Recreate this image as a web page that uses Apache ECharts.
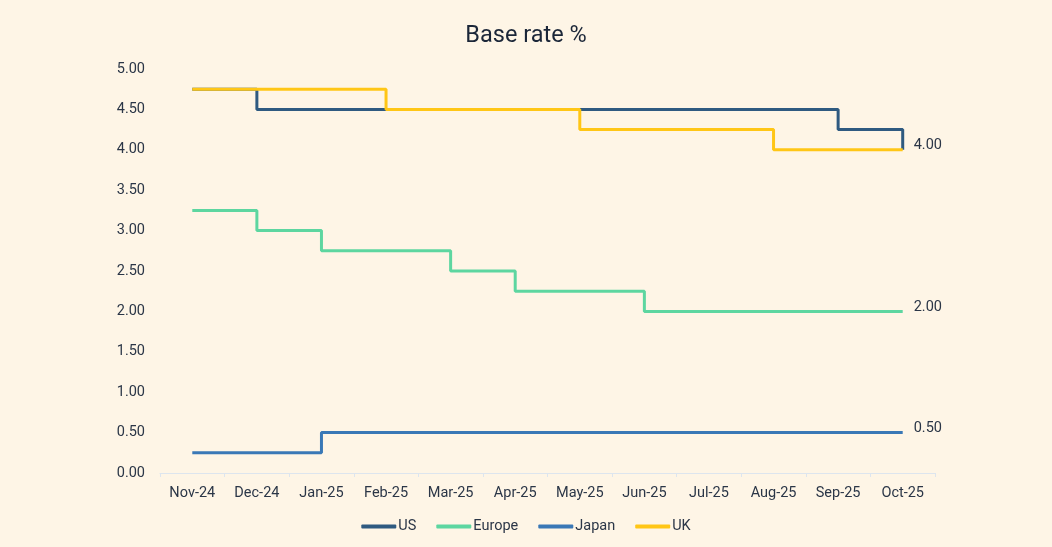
<!DOCTYPE html>
<html>
<head>
<meta charset="utf-8">
<style>
html,body{margin:0;padding:0;background:#fef5e6;}
#chart{width:1052px;height:547px;}
</style>
<script src="https://cdn.jsdelivr.net/npm/echarts@6/dist/echarts.min.js"></script>
</head>
<body>
<div id="chart"></div>
<script>
const categories = ['Nov-24','Dec-24','Jan-25','Feb-25','Mar-25','Apr-25','May-25','Jun-25','Jul-25','Aug-25','Sep-25','Oct-25'];
const usRates     = [4.75, 4.50, 4.50, 4.50, 4.50, 4.50, 4.50, 4.50, 4.50, 4.50, 4.25, 4.00];
const europeRates = [3.25, 3.00, 2.75, 2.75, 2.50, 2.25, 2.25, 2.00, 2.00, 2.00, 2.00, 2.00];
const japanRates  = [0.25, 0.25, 0.50, 0.50, 0.50, 0.50, 0.50, 0.50, 0.50, 0.50, 0.50, 0.50];
const ukRates     = [4.75, 4.75, 4.75, 4.50, 4.50, 4.50, 4.25, 4.25, 4.25, 4.00, 4.00, 4.00];

const chart = echarts.init(document.getElementById('chart'));
const textColor = '#2b3647';
function mk(name, data, color, showEnd) {
  return {
    name: name, type: 'line', step: 'end', data: data,
    showSymbol: false, symbol: 'none',
    lineStyle: { color: color, width: 3 },
    itemStyle: { color: color },
    endLabel: {
      show: showEnd, color: textColor, fontSize: 14.5, fontFamily: 'Roboto',
      offset: [3, -4],
      formatter: p => Number(p.value).toFixed(2)
    }
  };
}
chart.setOption({
  backgroundColor: '#fef5e6',
  animation: false,
  title: {
    text: 'Base rate %', left: 'center', top: 19,
    textStyle: { fontFamily: 'Roboto', fontSize: 23.5, fontWeight: 'normal', color: '#1b2638' }
  },
  legend: {
    bottom: 8, left: 'center',
    icon: 'roundRect', itemWidth: 35, itemHeight: 4, itemGap: 20,
    textStyle: { fontFamily: 'Roboto', fontSize: 14.5, color: textColor, padding: [0,0,0,-3] },
    data: ['US','Europe','Japan','UK']
  },
  grid: { left: 160, right: 117, top: 69, bottom: 74 },
  xAxis: {
    type: 'category', data: categories, boundaryGap: true,
    axisLine: { lineStyle: { color: '#dde5ee', width: 1 } },
    axisTick: { show: true, length: 4, lineStyle: { color: '#dde5ee' } },
    axisLabel: { fontFamily: 'Roboto', fontSize: 14.5, color: textColor, margin: 13 }
  },
  yAxis: {
    type: 'value', min: 0, max: 5, interval: 0.5,
    axisLine: { show: false }, axisTick: { show: false }, splitLine: { show: false },
    axisLabel: { fontFamily: 'Roboto', fontSize: 14.5, color: textColor, margin: 15,
      formatter: v => v.toFixed(2) }
  },
  series: [
    mk('US', usRates, '#2f5a80', false),
    mk('Europe', europeRates, '#5dd6a0', true),
    mk('Japan', japanRates, '#3a78b6', true),
    mk('UK', ukRates, '#ffc616', true)
  ]
});
</script>
</body>
</html>
